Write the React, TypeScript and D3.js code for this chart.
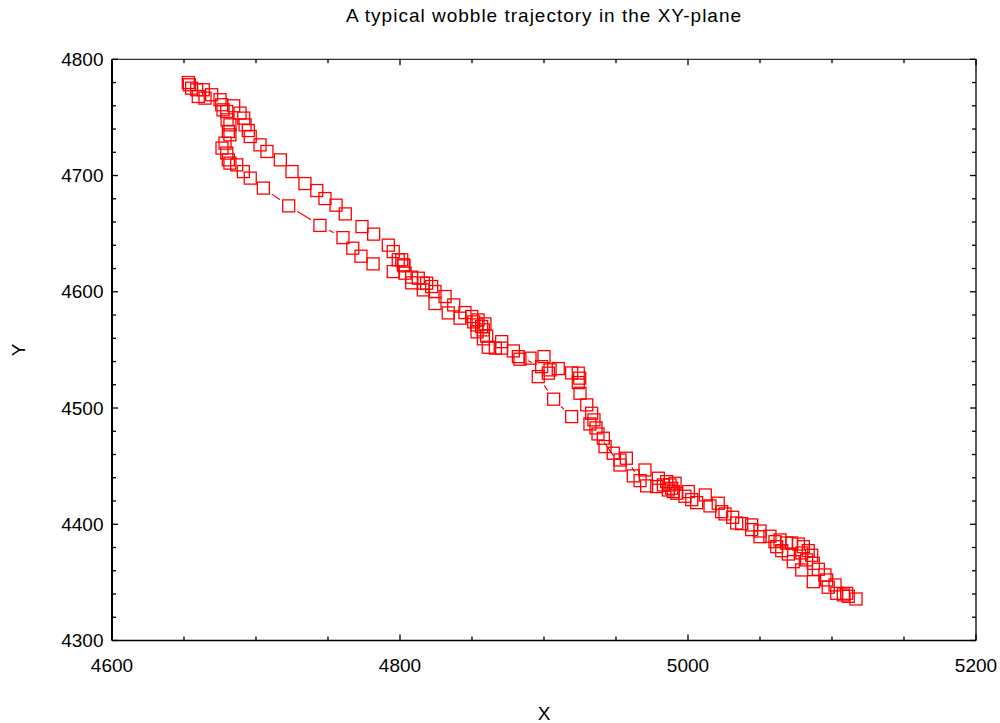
import React from "react";
import * as d3 from "d3";

// Wobble trajectory samples (X, Y) in the order they were recorded.
const trajX: number[] = [
  4653.0, 4653.7, 4655.3, 4658.8, 4663.4, 4659.9, 4664.6, 4669.2, 4675.0, 4676.2,
  4684.5, 4679.7, 4688.9, 4691.5, 4692.4, 4694.7, 4696.0, 4702.8, 4707.6, 4716.9,
  4725.0, 4734.0, 4742.2, 4747.9, 4755.6, 4762.0, 4773.6, 4781.7, 4791.9, 4795.3,
  4798.8, 4802.3, 4803.5, 4808.1, 4812.7, 4818.5, 4822.0, 4824.3, 4831.3, 4837.3,
  4845.1, 4849.8, 4854.2, 4856.7, 4859.0, 4860.2, 4866.2, 4870.6, 4878.7, 4883.3,
  4890.3, 4900.0, 4903.0, 4904.2, 4909.9, 4919.2, 4923.8, 4924.8, 4923.8, 4925.0,
  4929.7, 4933.1, 4934.7, 4936.1, 4941.2, 4942.4, 4948.1, 4952.8, 4962.0, 4970.1,
  4971.3, 4979.4, 4985.2, 4988.7, 4991.0, 4992.2, 5000.2, 5006.0, 5012.0, 5021.0,
  5025.7, 5033.8, 5044.2, 5050.0, 5056.9, 5063.9, 5068.5, 5076.6, 5083.5, 5085.9,
  5090.5, 5095.1, 5097.4, 5103.3, 5110.2, 5116.7,
  5111.3, 5107.9, 5102.1, 5096.3, 5087.0, 5087.0, 5082.4, 5079.0, 5073.1, 5079.0,
  5080.1, 5072.0, 5069.7, 5065.1, 5061.6, 5060.4, 5050.0, 5044.2, 5037.3, 5031.0,
  5023.4, 5015.3, 5002.6, 4997.9, 4989.8, 4986.3, 4987.5, 4982.9, 4978.3, 4966.7,
  4957.2, 4952.8, 4937.5, 4931.9, 4919.2, 4906.7, 4896.0, 4898.4, 4882.2, 4870.6,
  4861.3, 4857.9, 4857.9, 4853.3, 4853.5, 4851.2, 4841.7, 4833.5, 4824.3, 4816.2,
  4816.2, 4808.1, 4802.8, 4801.2, 4795.3, 4781.3, 4772.9, 4767.2, 4760.4, 4744.4,
  4722.7, 4705.1, 4696.0, 4691.2, 4686.6, 4681.9, 4680.8, 4679.7, 4676.4, 4678.5,
  4681.9, 4680.8, 4681.9, 4679.9, 4677.1,
];

const trajY: number[] = [
  4780.0, 4778.1, 4775.2, 4773.8, 4773.8, 4768.0, 4766.6, 4769.5, 4765.2, 4760.9,
  4760.0, 4755.1, 4753.7, 4749.4, 4743.6, 4738.7, 4733.6, 4726.4, 4720.7, 4713.5,
  4703.4, 4693.1, 4687.1, 4680.2, 4674.5, 4667.0, 4656.1, 4649.6, 4640.1, 4634.6,
  4627.5, 4623.2, 4616.0, 4612.6, 4611.7, 4607.4, 4604.5, 4600.2, 4595.9, 4588.7,
  4582.1, 4578.7, 4575.8, 4570.1, 4572.4, 4561.8, 4551.5, 4557.1, 4549.1, 4542.0,
  4542.9, 4544.2, 4530.0, 4532.8, 4533.9, 4530.2, 4530.0, 4525.7, 4521.9, 4512.7,
  4502.7, 4495.5, 4489.8, 4482.9, 4474.0, 4466.8, 4461.1, 4455.3, 4441.6, 4446.7,
  4433.0, 4439.6, 4436.7, 4431.0, 4435.3, 4426.7, 4428.1, 4418.6, 4425.2, 4418.1,
  4408.9, 4401.1, 4399.4, 4389.3, 4389.7, 4386.5, 4383.9, 4383.0, 4377.3, 4373.3,
  4361.3, 4356.4, 4345.8, 4340.6, 4340.6, 4335.7,
  4338.0, 4339.2, 4347.8, 4352.1, 4350.6, 4366.4, 4369.3, 4360.7, 4367.8, 4375.3,
  4380.7, 4383.9, 4374.4, 4377.3, 4380.7, 4385.0, 4394.2, 4395.4, 4400.5, 4406.0,
  4410.8, 4415.8, 4421.2, 4424.1, 4428.1, 4429.5, 4433.8, 4433.8, 4432.4, 4437.5,
  4456.8, 4451.0, 4477.7, 4486.3, 4492.6, 4507.6, 4527.0, 4535.6, 4544.2, 4551.5,
  4552.3, 4559.5, 4567.2, 4571.5, 4565.5, 4574.1, 4577.3, 4581.8, 4589.9, 4601.6,
  4607.4, 4607.7, 4622.3, 4627.5, 4617.4, 4624.0, 4630.6, 4637.5, 4646.6, 4657.1,
  4673.9, 4689.2, 4697.8, 4703.4, 4709.2, 4710.7, 4713.5, 4719.3, 4723.6, 4727.9,
  4735.0, 4737.9, 4743.6, 4747.9, 4756.5,
];

const xDomain: [number, number] = [4600, 5200];
const yDomain: [number, number] = [4300, 4800];
const xTickLabels: number[] = [4600, 4800, 5000, 5200];
const yTickLabels: number[] = [4300, 4400, 4500, 4600, 4700, 4800];

const titleText = "A typical wobble trajectory in the XY-plane";
const xLabel = "X";
const yLabel = "Y";

const FONT = "'Liberation Sans', Arial, Helvetica, sans-serif";
const RED = "#ff0000";

export default function App() {
  const width = 1000;
  const height = 723;
  const left = 112;
  const right = 976;
  const top = 59.3;
  const bottom = 640.5;

  const x = d3.scaleLinear().domain(xDomain).range([left, right]);
  const y = d3.scaleLinear().domain(yDomain).range([bottom, top]);

  const pts: [number, number][] = trajX.map((v, i) => [x(v), y(trajY[i])]);

  // connecting segments stop short of each marker, leaving a small gap
  const gap = 10.5;
  const segPath = d3.path();
  for (let i = 1; i < pts.length; i++) {
    const [x0, y0] = pts[i - 1];
    const [x1, y1] = pts[i];
    const dx = x1 - x0;
    const dy = y1 - y0;
    const len = Math.hypot(dx, dy);
    if (len <= gap * 2 + 1) continue;
    const ux = dx / len;
    const uy = dy / len;
    segPath.moveTo(x0 + ux * gap, y0 + uy * gap);
    segPath.lineTo(x1 - ux * gap, y1 - uy * gap);
  }

  const xMinor = x.ticks(12);
  const yMinor = y.ticks(25);
  const majorLen = 6;
  const minorLen = 4;
  const sq = 12;

  return (
    <svg
      width={width}
      height={height}
      style={{ position: "absolute", left: 0, top: 0, background: "#fff" }}
      fontFamily={FONT}
    >
      <rect x={0} y={0} width={width} height={height} fill="#fff" />

      {/* trajectory */}
      <path d={segPath.toString()} fill="none" stroke={RED} strokeWidth={1.2} />
      {pts.map((d, i) => (
        <rect
          key={i}
          x={d[0] - sq / 2}
          y={d[1] - sq / 2}
          width={sq}
          height={sq}
          fill="none"
          stroke={RED}
          strokeWidth={1.3}
        />
      ))}

      {/* frame */}
      <line x1={left} x2={right} y1={top} y2={top} stroke="#000" strokeWidth={1} />
      <line x1={right} x2={right} y1={top} y2={bottom} stroke="#000" strokeWidth={1.3} />
      <line x1={left} x2={right} y1={bottom} y2={bottom} stroke="#000" strokeWidth={1.6} />
      <line x1={left} x2={left} y1={top} y2={bottom} stroke="#000" strokeWidth={2} />

      {/* x ticks, bottom and top, pointing inward */}
      {xMinor.map((t) => {
        const len = xTickLabels.includes(t) ? majorLen : minorLen;
        return (
          <g key={"xt" + t}>
            <line x1={x(t)} x2={x(t)} y1={bottom} y2={bottom - len} stroke="#000" strokeWidth={1.3} />
            <line x1={x(t)} x2={x(t)} y1={top} y2={top + len} stroke="#000" strokeWidth={1.3} />
          </g>
        );
      })}
      {/* y ticks, left and right, pointing inward */}
      {yMinor.map((t) => {
        const len = yTickLabels.includes(t) ? majorLen : minorLen;
        return (
          <g key={"yt" + t}>
            <line x1={left} x2={left + len} y1={y(t)} y2={y(t)} stroke="#000" strokeWidth={1.3} />
            <line x1={right} x2={right - len} y1={y(t)} y2={y(t)} stroke="#000" strokeWidth={1.3} />
          </g>
        );
      })}

      {/* tick labels */}
      {xTickLabels.map((t) => (
        <text key={"xl" + t} x={x(t)} y={671.5} textAnchor="middle" fontSize={19} fill="#000">
          {t}
        </text>
      ))}
      {yTickLabels.map((t) => (
        <text key={"yl" + t} x={103.5} y={y(t)} dy="0.35em" textAnchor="end" fontSize={19} fill="#000">
          {t}
        </text>
      ))}

      {/* title and axis labels */}
      <text
        x={(left + right) / 2}
        y={22}
        textAnchor="middle"
        fontSize={19}
        letterSpacing={1}
        fill="#000"
      >
        {titleText}
      </text>
      <text x={(left + right) / 2} y={720} textAnchor="middle" fontSize={19} fill="#000">
        {xLabel}
      </text>
      <text
        transform={`translate(25, ${(top + bottom) / 2}) rotate(-90)`}
        textAnchor="middle"
        fontSize={19}
        fill="#000"
      >
        {yLabel}
      </text>
    </svg>
  );
}
